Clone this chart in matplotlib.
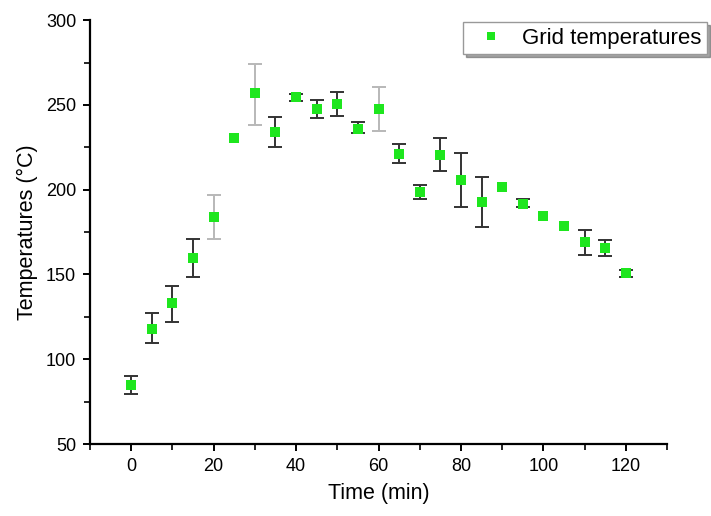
import matplotlib.pyplot as plt
from matplotlib.ticker import MultipleLocator

plt.rcParams['font.family'] = ['Liberation Sans', 'DejaVu Sans']

# Grid temperature readings over the run
time_min = [0, 5, 10, 15, 20, 25, 30, 35, 40, 45, 50, 55, 60,
            65, 70, 75, 80, 85, 90, 95, 100, 105, 110, 115, 120]
temp_c = [84.8, 117.8, 133.0, 159.9, 183.8, 230.6, 256.8, 234.1, 254.8,
          247.5, 250.7, 235.5, 247.5, 221.2, 198.8, 220.4, 205.7, 192.9,
          201.7, 191.5, 184.4, 178.7, 168.9, 165.7, 150.6]
err_low = [5.5, 8.4, 10.9, 11.2, 12.9, 0.0, 18.5, 8.8, 2.3, 5.1, 7.3, 2.3,
           12.8, 5.6, 4.3, 9.2, 16.1, 14.8, 0.0, 1.9, 0.0, 0.0, 7.3, 4.7, 2.3]
err_high = [5.3, 9.4, 10.2, 11.0, 13.0, 0.0, 17.2, 8.5, 1.8, 5.3, 6.8, 4.4,
            13.1, 5.7, 3.7, 10.0, 16.1, 14.5, 0.0, 3.0, 0.0, 0.0, 7.1, 4.6, 2.0]

# a few of the bars are printed much fainter than the rest
faint = {20, 30, 60}

fig = plt.figure(figsize=(7.11, 5.16), dpi=100)
ax = fig.add_axes([0.1266, 0.1395, 0.8115, 0.8215])

for t, v, lo, hi in zip(time_min, temp_c, err_low, err_high):
    if lo == 0 and hi == 0:
        continue
    col = '#b8b8b8' if t in faint else '#333333'
    ax.errorbar(t, v, yerr=[[lo], [hi]], fmt='none', ecolor=col,
                elinewidth=1.4, capsize=5, capthick=1.4, zorder=2)

ax.plot(time_min, temp_c, 's', color='#1ee61e', markersize=7.5,
        markeredgewidth=0, label='Grid temperatures', zorder=3)

ax.set_xlim(-10, 130)
ax.set_ylim(50, 300)
ax.xaxis.set_major_locator(MultipleLocator(20))
ax.xaxis.set_minor_locator(MultipleLocator(10))
ax.yaxis.set_major_locator(MultipleLocator(50))
ax.yaxis.set_minor_locator(MultipleLocator(25))

for side in ('top', 'right'):
    ax.spines[side].set_visible(False)
for side in ('left', 'bottom'):
    ax.spines[side].set_linewidth(1.6)

ax.tick_params(which='major', direction='out', length=5, width=1.4,
               labelsize=13, pad=5)
ax.tick_params(which='minor', direction='out', length=4, width=1.2)

ax.set_xlabel('Time (min)', fontsize=15.5, labelpad=6)
ax.set_ylabel('Temperatures (°C)', fontsize=15.5, labelpad=6)

leg = ax.legend(loc='upper right', bbox_to_anchor=(707 / 711, 1 - 22 / 516),
                bbox_transform=fig.transFigure, fontsize=16, fancybox=False,
                shadow=True, edgecolor='#999999', framealpha=1,
                borderaxespad=0, handletextpad=0.4, borderpad=0.25,
                markerscale=0.85)

fig.savefig('out.png', dpi=100)
